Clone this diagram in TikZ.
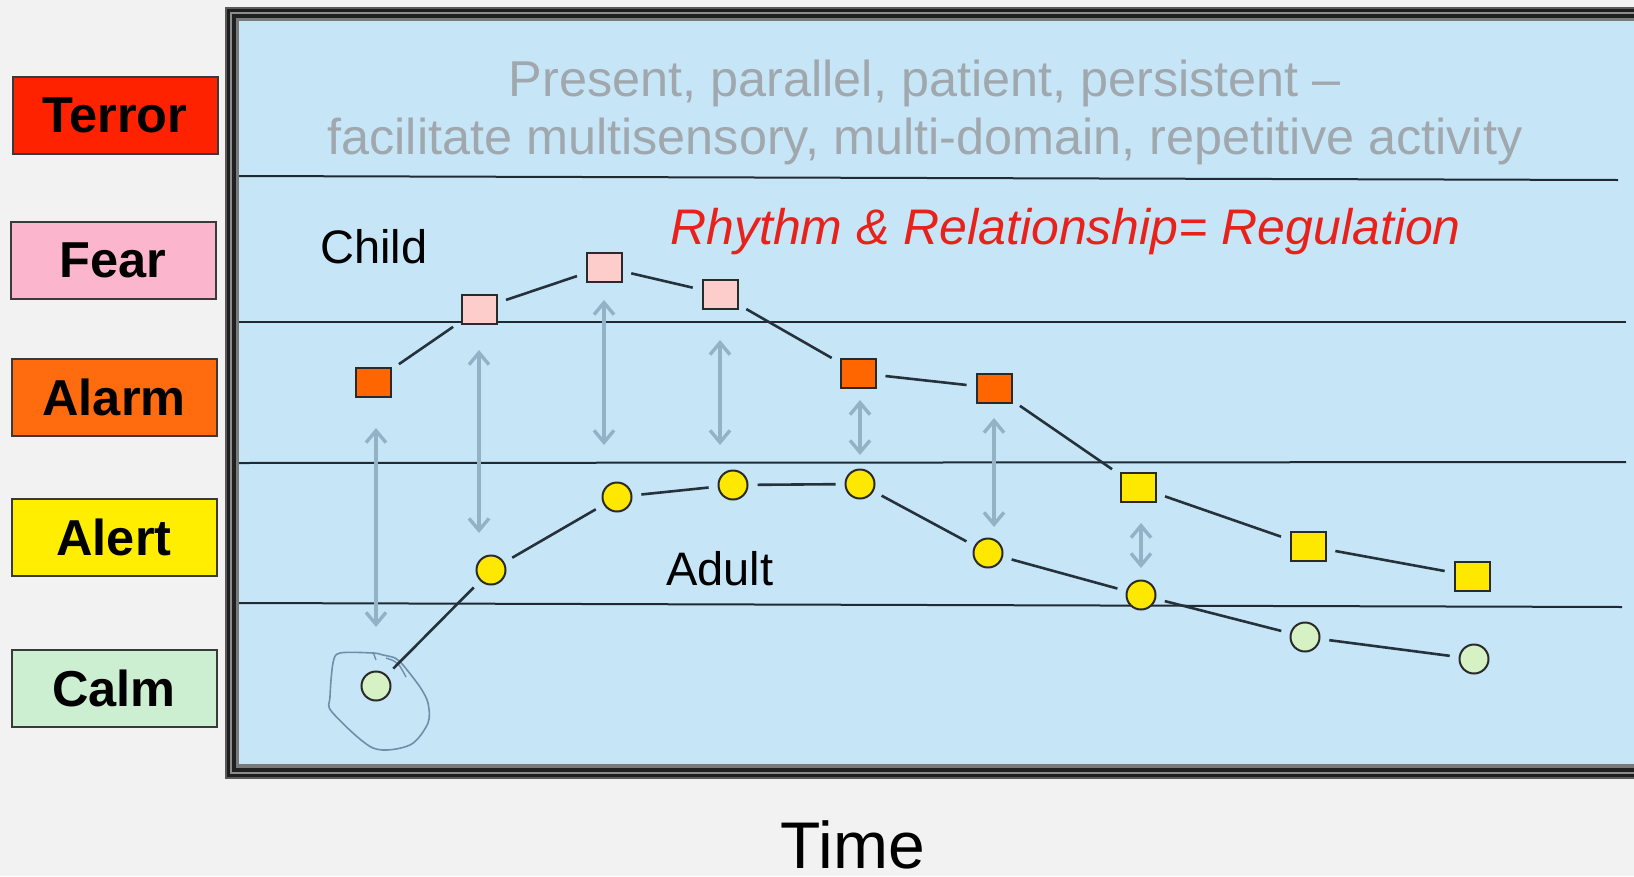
\documentclass[tikz,border=0pt]{standalone}
\usepackage{fontspec}
\setmainfont{Liberation Sans}
\usetikzlibrary{arrows.meta}
\definecolor{bgc}{HTML}{F2F2F2}
\definecolor{panel}{HTML}{C6E6F8}
\definecolor{frA}{HTML}{5A5A5A}
\definecolor{frB}{HTML}{1E1E1E}
\definecolor{frC}{HTML}{8C8C8C}
\definecolor{frD}{HTML}{202020}
\definecolor{frE}{HTML}{7A7A7A}
\definecolor{terrorc}{HTML}{FF2200}
\definecolor{fearc}{HTML}{FBB6CE}
\definecolor{alarmc}{HTML}{FF6B0F}
\definecolor{alertc}{HTML}{FFEE00}
\definecolor{calmc}{HTML}{CBEFD0}
\definecolor{pinksq}{HTML}{FCCDCB}
\definecolor{orangesq}{HTML}{FF6600}
\definecolor{yellowsq}{HTML}{FFE800}
\definecolor{greenci}{HTML}{D6F2C4}
\definecolor{boxborder}{HTML}{3A3A3A}
\definecolor{nodeborder}{HTML}{2A2A2A}
\definecolor{linec}{HTML}{25323C}
\definecolor{sepc}{HTML}{1F2A33}
\definecolor{arrc}{HTML}{93B2C6}
\definecolor{titlec}{HTML}{A0A8AE}
\definecolor{redtext}{HTML}{E8221B}
\definecolor{loopc}{HTML}{6F8FA8}
\begin{document}
\begin{tikzpicture}[x=1pt,y=-1pt,
  lvl/.style={draw=boxborder, line width=2pt, minimum width=205pt, minimum height=77pt, inner sep=0pt,
    font=\fontsize{50.5}{50.5}\selectfont\bfseries},
  csq/.style={draw=nodeborder, line width=2pt, minimum width=35pt, minimum height=29pt, inner sep=0pt},
  acirc/.style={circle, draw=nodeborder, line width=2pt, minimum size=29pt, inner sep=0pt},
  conn/.style={draw=linec, line width=2.6pt, shorten >=9pt, shorten <=9pt},
  dbl/.style={draw=arrc, line width=3.4pt,
    {Straight Barb[length=12pt,width=20pt]}-{Straight Barb[length=12pt,width=20pt]}},
  sep/.style={draw=sepc, line width=2pt},
  lbl/.style={inner sep=0pt, anchor=base}
]
\useasboundingbox (0,0) rectangle (1634,876);
\clip (0,0) rectangle (1634,876);
\fill[bgc] (0,0) rectangle (1634,876);
% frame
\fill[frA] (225,7) rectangle (1650,779);
\fill[frB] (227,9) rectangle (1648,777);
\fill[frC] (230,12) rectangle (1645,774);
\fill[frD] (232,14) rectangle (1643,772);
\fill[frE] (236,18) rectangle (1640,768);
\fill[panel] (239,21) rectangle (1638,764);
% separators
\draw[sep] (239,176) -- (1618,180);
\draw[sep] (239,322) -- (1626,322);
\draw[sep] (239,463) -- (1626,462);
\draw[sep] (239,603) -- (1622,607);
% level labels
\node[lvl, fill=terrorc] (terror) at (115,115.5) {Terror};
\node[lvl, fill=fearc]   (fear)   at (113,260) {Fear};
\node[lvl, fill=alarmc]  (alarm)  at (114,397) {Alarm};
\node[lvl, fill=alertc]  (alert)  at (114,537) {Alert};
\node[lvl, fill=calmc]   (calm)   at (114,688.5) {Calm};
% texts
\node[lbl, text=titlec, font=\fontsize{50.4}{50.4}\selectfont] (title1) at (925,96) {Present, parallel, patient, persistent –};
\node[lbl, text=titlec, font=\fontsize{50.4}{50.4}\selectfont] (title2) at (925,154) {facilitate multisensory, multi-domain, repetitive activity};
\node[lbl, anchor=base west, text=redtext, font=\fontsize{50}{50}\selectfont\itshape] (rhythm) at (670,244) {Rhythm \& Relationship= Regulation};
\node[lbl, anchor=base west, font=\fontsize{47}{47}\selectfont] (child) at (320,263) {Child};
\node[lbl, anchor=base west, font=\fontsize{47}{47}\selectfont] (adult) at (666,585) {Adult};
\node[lbl, text depth=0pt, font=\fontsize{66}{66}\selectfont] (time) at (853,868) {Time};
% hand-drawn loop
\draw[loopc, line width=1.6pt, line join=round] plot[smooth cycle, tension=0.5] coordinates
  {(340,653) (373,653) (383,655) (395,658) (403,665) (420,687) (428,703) (428,723) (410,745) (373,748) (332,712) (330,697) (333,663)};
\draw[loopc, line width=1.4pt] (373,652) -- (376,660);
\draw[loopc, line width=1.4pt] (386,658) .. controls (398,662) .. (406,677);
% child nodes
\node[csq, fill=orangesq] (c1) at (373,382) {};
\node[csq, fill=pinksq]   (c2) at (479,309) {};
\node[csq, fill=pinksq]   (c3) at (604,267) {};
\node[csq, fill=pinksq]   (c4) at (720,294) {};
\node[csq, fill=orangesq] (c5) at (858,373) {};
\node[csq, fill=orangesq] (c6) at (994,388) {};
\node[csq, fill=yellowsq] (c7) at (1138,487) {};
\node[csq, fill=yellowsq] (c8) at (1308,546) {};
\node[csq, fill=yellowsq] (c9) at (1472,576) {};
% adult nodes
\node[acirc, fill=greenci]  (a1) at (376,686) {};
\node[acirc, fill=yellowsq] (a2) at (491,570) {};
\node[acirc, fill=yellowsq] (a3) at (617,497) {};
\node[acirc, fill=yellowsq] (a4) at (733,485) {};
\node[acirc, fill=yellowsq] (a5) at (860,484) {};
\node[acirc, fill=yellowsq] (a6) at (988,553) {};
\node[acirc, fill=yellowsq] (a7) at (1141,595) {};
\node[acirc, fill=greenci]  (a8) at (1305,637) {};
\node[acirc, fill=greenci]  (a9) at (1474,659) {};
% connectors
\foreach \p/\q in {c1/c2,c2/c3,c3/c4,c4/c5,c5/c6,c6/c7,c7/c8,c8/c9,
                   a1/a2,a2/a3,a3/a4,a4/a5,a5/a6,a6/a7,a7/a8,a8/a9}
  \draw[conn] (\p) -- (\q);
% regulation arrows
\draw[dbl, shorten <=46pt, shorten >=59pt] (c1.center -| a1.center) -- (a1.center);
\draw[dbl, shorten <=41pt, shorten >=37pt] (c2.center) -- (c2.center |- a2.center);
\draw[dbl, shorten <=33pt, shorten >=52pt] (c3.center) -- (c3.center |- a3.center);
\draw[dbl, shorten <=46pt, shorten >=40pt] (c4.center) -- (c4.center |- a4.center);
\draw[dbl, shorten <=27pt, shorten >=29pt] (c5.center -| a5.center) -- (a5.center);
\draw[dbl, shorten <=30pt, shorten >=26pt] (c6.center) -- (c6.center |- a6.center);
\draw[dbl, shorten <=36pt, shorten >=27pt] (c7.center -| a7.center) -- (a7.center);
\end{tikzpicture}
\end{document}
